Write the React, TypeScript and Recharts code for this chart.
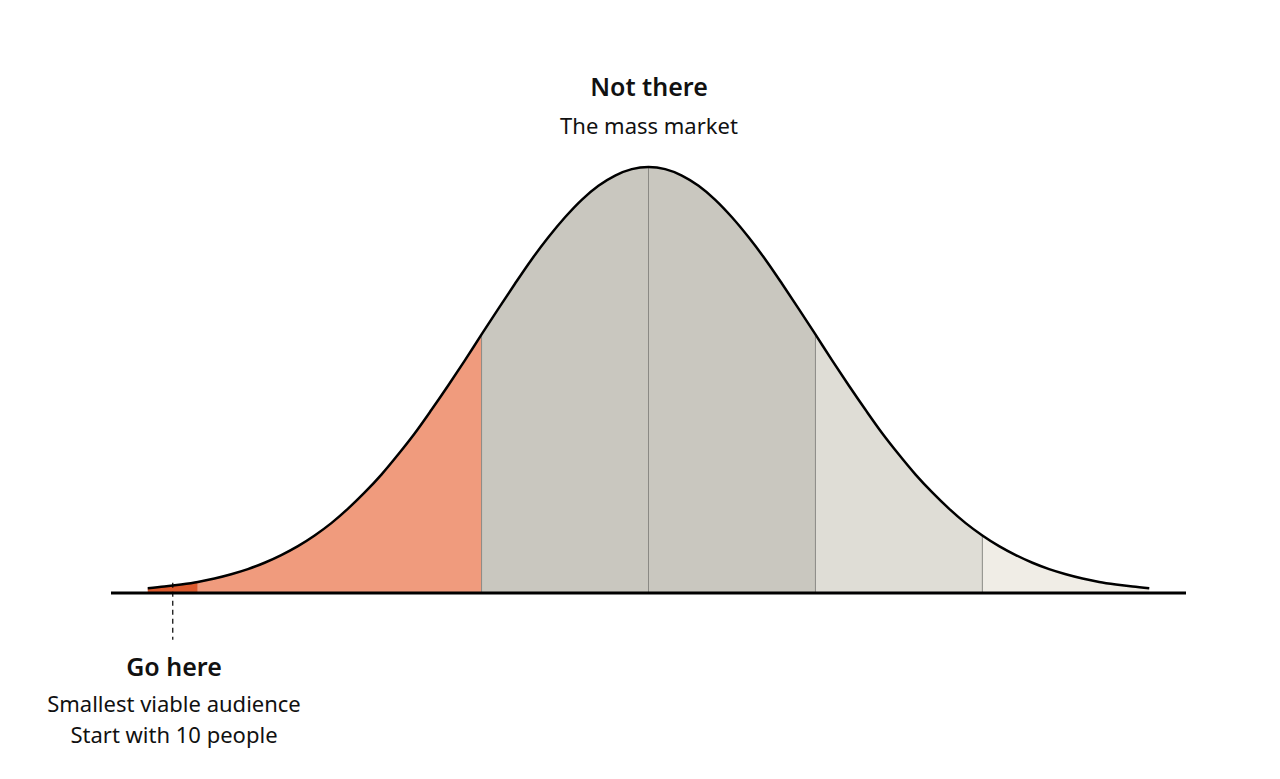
import { ComposedChart, Area, Line, XAxis, YAxis, ReferenceLine } from 'recharts';

// position along the curve, in standard deviations
const xs = [
  -3.0, -2.9, -2.8, -2.7, -2.6, -2.5, -2.4, -2.3, -2.2, -2.1, -2.0, -1.9, -1.8, -1.7, -1.6, -1.5,
  -1.4, -1.3, -1.2, -1.1, -1.0, -0.9, -0.8, -0.7, -0.6, -0.5, -0.4, -0.3, -0.2, -0.1, 0.0,
  0.1, 0.2, 0.3, 0.4, 0.5, 0.6, 0.7, 0.8, 0.9, 1.0, 1.1, 1.2, 1.3, 1.4, 1.5,
  1.6, 1.7, 1.8, 1.9, 2.0, 2.1, 2.2, 2.3, 2.4, 2.5, 2.6, 2.7, 2.8, 2.9, 3.0,
];

// curve height, peak = 100
const heights = [
  1.1, 1.5, 2.0, 2.6, 3.4, 4.4, 5.6, 7.1, 8.9, 11.0, 13.5, 16.4, 19.8, 23.6, 27.8, 32.5,
  37.5, 43.0, 48.7, 54.6, 60.7, 66.7, 72.6, 78.3, 83.5, 88.2, 92.3, 95.6, 98.0, 99.5, 100,
  99.5, 98.0, 95.6, 92.3, 88.2, 83.5, 78.3, 72.6, 66.7, 60.7, 54.6, 48.7, 43.0, 37.5, 32.5,
  27.8, 23.6, 19.8, 16.4, 13.5, 11.0, 8.9, 7.1, 5.6, 4.4, 3.4, 2.6, 2.0, 1.5, 1.1,
];

// segment edges and their fills
const segEdges = [-3, -2.7, -1, 0, 1, 2, 3];
const segColors = ['#dc5a2e', '#f09b7d', '#c9c7bf', '#c9c7bf', '#dfddd6', '#f0ede6'];
const dividers = [-1, 0, 1, 2];
const targetX = -2.85;

const data = xs.map((x, i) => {
  const row: Record<string, number | null> = { x, y: heights[i] };
  segColors.forEach((_, s) => {
    const inSeg = x >= segEdges[s] - 1e-6 && x <= segEdges[s + 1] + 1e-6;
    row['s' + s] = inSeg ? heights[i] : null;
  });
  return row;
});

const heightAt = (x: number) => {
  const i = xs.findIndex((v) => Math.abs(v - x) < 1e-6);
  return i >= 0 ? heights[i] : 0;
};

const font = '"Noto Sans", sans-serif';

export default function App() {
  return (
    <div style={{ position: 'absolute', left: 0, top: 0, width: 1280, height: 779, background: '#fff', fontFamily: font }}>
      <ComposedChart
        width={1280}
        height={779}
        data={data}
        margin={{ top: 167, right: 94, left: 111, bottom: 186 }}
      >
        <XAxis dataKey="x" type="number" domain={[-3.22, 3.22]} hide />
        <YAxis type="number" domain={[0, 100]} hide />
        {segColors.map((c, s) => (
          <Area
            key={s}
            dataKey={'s' + s}
            type="monotone"
            fill={c}
            fillOpacity={1}
            stroke="none"
            isAnimationActive={false}
          />
        ))}
        {dividers.map((d) => (
          <ReferenceLine
            key={d}
            segment={[{ x: d, y: 0 }, { x: d, y: heightAt(d) }]}
            stroke="#8a8984"
            strokeWidth={1}
          />
        ))}
        <ReferenceLine
          segment={[{ x: targetX, y: 2.4 }, { x: targetX, y: -11 }]}
          stroke="#000"
          strokeWidth={1.2}
          strokeDasharray="5 4"
          ifOverflow="visible"
        />
        <Line dataKey="y" type="monotone" stroke="#000" strokeWidth={2.5} dot={false} isAnimationActive={false} />
        <ReferenceLine y={0} stroke="#000" strokeWidth={3} />
      </ComposedChart>

      <div style={{ position: 'absolute', left: 449, width: 400, top: 69, textAlign: 'center', fontSize: 25, fontWeight: 600, color: '#111', lineHeight: '34px' }}>
        Not there
      </div>
      <div style={{ position: 'absolute', left: 449, width: 400, top: 110, textAlign: 'center', fontSize: 22, color: '#111', lineHeight: '30px' }}>
        The mass market
      </div>
      <div style={{ position: 'absolute', left: 0, width: 348, top: 649, textAlign: 'center', fontSize: 25, fontWeight: 600, color: '#111', lineHeight: '34px' }}>
        Go here
      </div>
      <div style={{ position: 'absolute', left: 0, width: 348, top: 688, textAlign: 'center', fontSize: 22, color: '#111', lineHeight: '31px' }}>
        Smallest viable audience
        <br />
        Start with 10 people
      </div>
    </div>
  );
}
